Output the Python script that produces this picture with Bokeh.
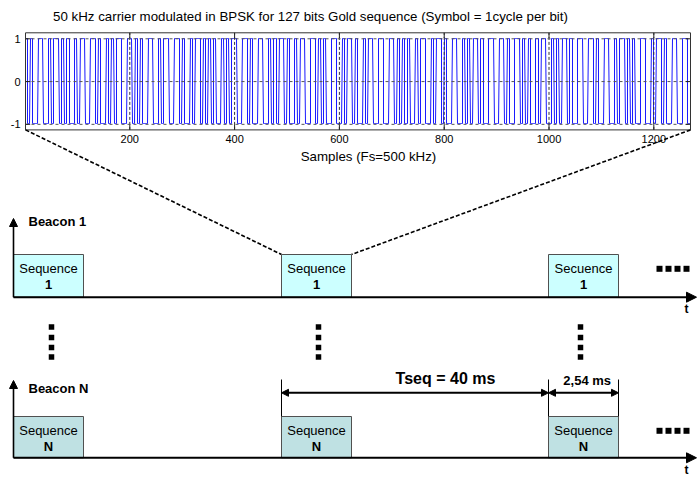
import numpy as np
from bokeh.plotting import figure
from bokeh.models import Range1d, Arrow, NormalHead
from bokeh.core.properties import value
from bokeh.embed import file_html
from bokeh.resources import INLINE

# ---------------- data ----------------
gold_bits = [1, 1, 0, 1, 0, 0, 1, 1, 1, 0,
             0, 1, 0, 1, 1, 0, 0, 0, 1, 0,
             1, 1, 1, 0, 1, 0, 0, 1, 0, 1,
             1, 0, 0, 1, 1, 1, 1, 0, 0, 0,
             1, 0, 1, 1, 0, 1, 0, 0, 0, 1,
             1, 0, 0, 1, 0, 1, 1, 1, 0, 1,
             0, 0, 1, 1, 0, 0, 1, 0, 1, 0,
             1, 1, 1, 1, 0, 0, 1, 0, 0, 1,
             1, 0, 1, 0, 0, 0, 1, 1, 0, 1,
             0, 1, 1, 0, 1, 1, 1, 0, 0, 1,
             0, 0, 0, 1, 1, 0, 1, 0, 1, 1,
             0, 1, 0, 0, 1, 1, 1, 0, 1, 0,
             0, 1, 1, 0, 1, 0, 1]
carrier_cycle = [1, 1, 1, 1, 1, -1, -1, -1, -1, -1]   # one 50 kHz cycle at Fs = 500 kHz
x_ticks = [200, 400, 600, 800, 1000, 1200]
x_tick_labels = ["200", "400", "600", "800", "1000", "1200"]
y_ticks = [-1, 0, 1]
y_tick_labels = ["-1", "0", "1"]
title_text = "50 kHz carrier modulated in BPSK for 127 bits Gold sequence (Symbol = 1cycle per bit)"
x_label_text = "Samples (Fs=500 kHz)"

beacon_names = ["Beacon 1", "Beacon N"]
box_top_labels = [["Sequence", "Sequence", "Secuence"], ["Sequence", "Sequence", "Sequence"]]
box_ids = ["1", "N"]
box_colors = ["#ccffff", "#bfe1e3"]
tseq_label = "Tseq = 40 ms"
tlen_label = "2,54 ms"
axis_t_label = "t"

assert len(gold_bits) == 127

# ---------------- signal ----------------
symbols = 2 * np.array(gold_bits) - 1
wave = np.repeat(symbols, len(carrier_cycle)) * np.tile(carrier_cycle, len(gold_bits))
samples = np.arange(1, len(wave) + 1)

# ---------------- layout (screen positions) ----------------
FONT = value("Liberation Sans")
FR_L, FR_R, FR_T, FR_B = 25.0, 690.0, 32.3, 129.4
X_SRC = (1, 1270)
Y_SRC = (-1.13, 1.14)

p = figure(width=700, height=477, x_range=Range1d(0, 700), y_range=Range1d(477, 0),
           output_backend="svg", toolbar_location=None, min_border=0,
           x_axis_location=None, y_axis_location=None,
           background_fill_color="white", border_fill_color="white",
           outline_line_color=None)
p.grid.visible = False

sub = p.subplot(x_source=Range1d(*X_SRC), y_source=Range1d(*Y_SRC),
                x_target=Range1d(FR_L, FR_R), y_target=Range1d(FR_B, FR_T))

# waveform
sub.line(x=samples, y=wave, line_color="#1a1aff", line_width=1)

# grid (dotted, on top like the original)
sub.segment(x0=x_ticks, y0=[Y_SRC[0]] * len(x_ticks), x1=x_ticks, y1=[Y_SRC[1]] * len(x_ticks),
            line_color="#333333", line_dash="3 2", line_width=1)
sub.segment(x0=[X_SRC[0]] * 3, y0=y_ticks, x1=[X_SRC[1]] * 3, y1=y_ticks,
            line_color="#555555", line_dash="3 3", line_width=1)

# inner tick marks
tick_len_y = 0.12
tick_len_x = 9
sub.segment(x0=x_ticks, y0=[Y_SRC[0]] * 6, x1=x_ticks, y1=[Y_SRC[0] + tick_len_y] * 6, line_color="#222222")
sub.segment(x0=x_ticks, y0=[Y_SRC[1]] * 6, x1=x_ticks, y1=[Y_SRC[1] - tick_len_y] * 6, line_color="#222222")
sub.segment(x0=[X_SRC[0]] * 3, y0=y_ticks, x1=[X_SRC[0] + tick_len_x] * 3, y1=y_ticks, line_color="#222222")
sub.segment(x0=[X_SRC[1]] * 3, y0=y_ticks, x1=[X_SRC[1] - tick_len_x] * 3, y1=y_ticks, line_color="#222222")

# frame
p.quad(left=[FR_L], right=[FR_R], top=[FR_T], bottom=[FR_B], fill_color=None,
       line_color="#333333", line_width=1)

# tick labels
sub.text(x=x_ticks, y=[Y_SRC[0]] * len(x_ticks), text=x_tick_labels, text_align="center",
         text_baseline="top", y_offset=5, text_font=FONT, text_font_size="11px", text_color="black")
sub.text(x=[X_SRC[0]] * 3, y=y_ticks, text=y_tick_labels, text_align="right",
         text_baseline="middle", x_offset=-5, text_font=FONT, text_font_size="11px", text_color="black")

# title and axis label
p.text(x=[310], y=[16], text=[title_text], text_align="center", text_baseline="middle",
       text_font=FONT, text_font_size="13.3px", text_color="black")
p.text(x=[368], y=[156], text=[x_label_text], text_align="center", text_baseline="middle",
       text_font=FONT, text_font_size="13.3px", text_color="black")

# ---------------- timing diagram ----------------
slot_left = [13, 281, 548]
BOX_W = 70
row_axis_y = [296.7, 457.3]
row_box_top = [254.0, 416.0]
row_arrow_tip = [218.0, 380.0]
row_label_y = [220.7, 388.3]
AX_X = 13
AX_END = 696

# zoom connectors (dashed)
p.segment(x0=[FR_L, FR_R], y0=[FR_B, FR_B], x1=[slot_left[1], slot_left[1] + BOX_W],
          y1=[row_box_top[0], row_box_top[0]], line_color="black", line_dash="4 2", line_width=1.6)

for r in range(2):
    ay, bt = row_axis_y[r], row_box_top[r]
    p.quad(left=slot_left, right=[s + BOX_W for s in slot_left], top=[bt] * 3, bottom=[ay] * 3,
           fill_color=box_colors[r], line_color="#505050", line_width=1)
    cx = [s + BOX_W / 2 for s in slot_left]
    p.text(x=cx, y=[bt + 14] * 3, text=box_top_labels[r], text_align="center", text_baseline="middle",
           text_font=FONT, text_font_size="13px", text_color="black")
    p.text(x=cx, y=[bt + 29.5] * 3, text=[box_ids[r]] * 3, text_align="center", text_baseline="middle",
           text_font=FONT, text_font_size="13px", text_font_style="bold", text_color="black")
    # axes
    p.add_layout(Arrow(x_start=AX_X, y_start=ay, x_end=AX_X, y_end=row_arrow_tip[r], line_width=1.6,
                       line_color="black", end=NormalHead(size=8, fill_color="black", line_color="black")))
    p.add_layout(Arrow(x_start=AX_X, y_start=ay, x_end=AX_END, y_end=ay, line_width=2,
                       line_color="black", end=NormalHead(size=10, fill_color="black", line_color="black")))
    p.text(x=[28], y=[row_label_y[r]], text=[beacon_names[r]], text_align="left", text_baseline="middle",
           text_font=FONT, text_font_size="13px", text_font_style="bold", text_color="black")
    p.text(x=[686], y=[ay + 12], text=[axis_t_label], text_align="center", text_baseline="middle",
           text_font=FONT, text_font_size="12px", text_font_style="bold", text_color="black")
    # continuation dots
    p.rect(x=[659, 668, 677, 686], y=[bt + 14.3] * 4, width=6, height=6,
           fill_color="black", line_color=None)

# vertical dots between rows
for vx in [51, 318, 580]:
    p.rect(x=[vx] * 4, y=[326.5, 337, 347, 356.5], width=5.5, height=5.5,
           fill_color="black", line_color=None)

# Tseq / sequence duration annotation
DIM_Y = 392.3
p.segment(x0=[281, 548, 618], y0=[379] * 3, x1=[281, 548, 618], y1=[row_box_top[1]] * 3,
          line_color="black", line_width=1)
p.add_layout(Arrow(x_start=281, y_start=DIM_Y, x_end=548, y_end=DIM_Y, line_width=2, line_color="black",
                   start=NormalHead(size=7, fill_color="black", line_color="black"),
                   end=NormalHead(size=7, fill_color="black", line_color="black")))
p.add_layout(Arrow(x_start=548, y_start=DIM_Y, x_end=618, y_end=DIM_Y, line_width=2, line_color="black",
                   start=NormalHead(size=7, fill_color="black", line_color="black"),
                   end=NormalHead(size=7, fill_color="black", line_color="black")))
p.text(x=[445], y=[378.3], text=[tseq_label], text_align="center", text_baseline="middle",
       text_font=FONT, text_font_size="16px", text_font_style="bold", text_color="black")
p.text(x=[586.7], y=[380], text=[tlen_label], text_align="center", text_baseline="middle",
       text_font=FONT, text_font_size="13px", text_font_style="bold", text_color="black")

open("out.html", "w").write(file_html(p, INLINE))
